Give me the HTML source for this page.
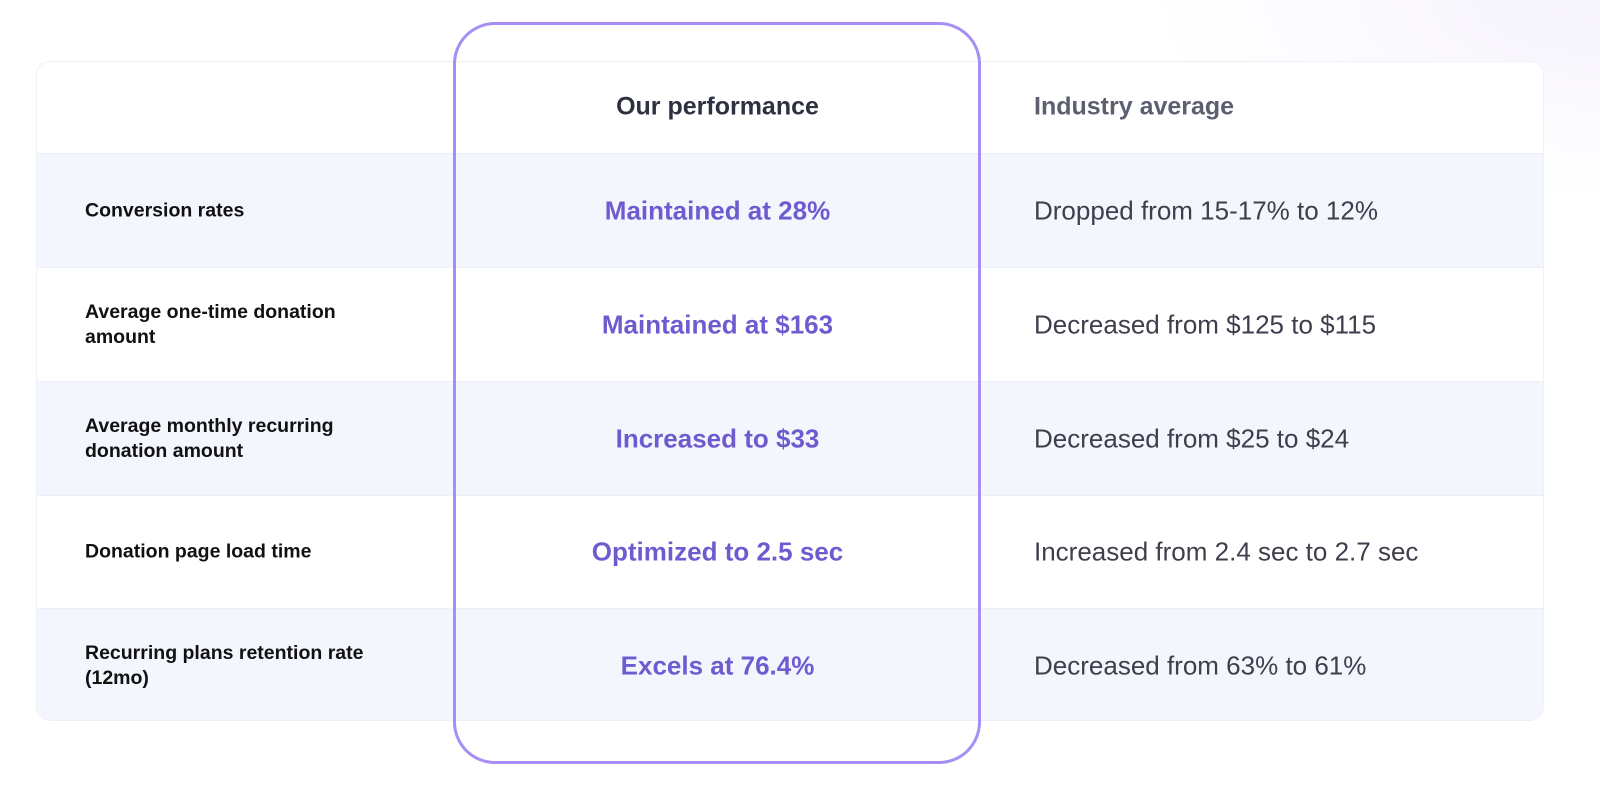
<!DOCTYPE html>
<html><head><meta charset="utf-8"><style>
*{margin:0;padding:0;box-sizing:border-box}
body{width:1600px;height:797px;position:relative;overflow:hidden;font-family:"Liberation Sans",sans-serif;background:radial-gradient(ellipse 450px 200px at 1600px 0,#f6f3fc,#fff 100%) #fff}
.card{position:absolute;left:36px;top:61px;width:1508px;height:660px;border:1px solid #eef0f7;border-radius:14px;background:#fff;overflow:hidden}
.row{position:absolute;left:0;width:100%;border-top:1px solid #eceff8}
.alt{background:#f3f6fd}
.lab{position:absolute;left:48px;font-weight:bold;font-size:19.5px;color:#111;line-height:25px;transform:translateY(-50%)}
.mid{position:absolute;left:417px;width:527px;text-align:center;font-weight:bold;font-size:26px;color:#6f5bd0;transform:translateY(-50%)}
.rt{position:absolute;left:997px;font-size:26px;color:#3d3f4c;transform:translateY(-50%)}
.box{position:absolute;left:453px;top:22px;width:528px;height:742px;border:3px solid #a68ef5;border-radius:42px}
</style></head><body>
<div class="card">
 <div class="mid" style="top:45px;color:#2e3140;font-size:25px">Our performance</div>
 <div class="rt" style="top:45px;font-weight:bold;color:#5c5f70;font-size:25px">Industry average</div>
 <div class="row alt" style="top:91px;height:114px"><div class="lab" style="top:57px">Conversion rates</div><div class="mid" style="top:57px;left:417px">Maintained at 28%</div><div class="rt" style="top:57px">Dropped from 15-17% to 12%</div></div>
 <div class="row" style="top:205px;height:114px"><div class="lab" style="top:57px">Average one-time donation<br>amount</div><div class="mid" style="top:57px">Maintained at $163</div><div class="rt" style="top:57px">Decreased from $125 to $115</div></div>
 <div class="row alt" style="top:319px;height:114px"><div class="lab" style="top:57px">Average monthly recurring<br>donation amount</div><div class="mid" style="top:57px">Increased to $33</div><div class="rt" style="top:57px">Decreased from $25 to $24</div></div>
 <div class="row" style="top:433px;height:113px"><div class="lab" style="top:56px">Donation page load time</div><div class="mid" style="top:56px">Optimized to 2.5 sec</div><div class="rt" style="top:56px">Increased from 2.4 sec to 2.7 sec</div></div>
 <div class="row alt" style="top:546px;height:114px"><div class="lab" style="top:57px">Recurring plans retention rate<br>(12mo)</div><div class="mid" style="top:57px">Excels at 76.4%</div><div class="rt" style="top:57px">Decreased from 63% to 61%</div></div>
</div>
<div class="box"></div>
</body></html>
